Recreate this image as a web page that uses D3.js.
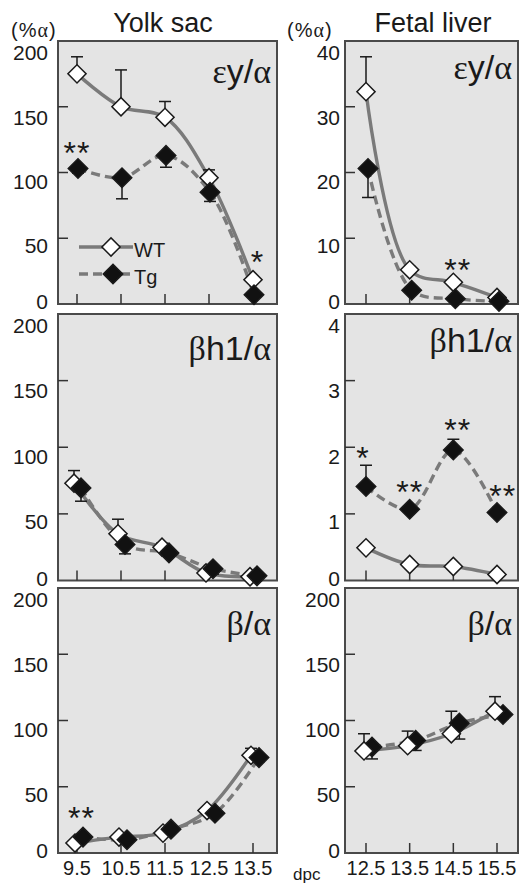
<!DOCTYPE html>
<html>
<head>
<meta charset="utf-8">
<script src="https://cdn.jsdelivr.net/npm/d3@7"></script>
<style>
  body { margin: 0; background: #fff; }
  svg { display: block; }
  text { font-family: "Liberation Sans", Arial, Helvetica, sans-serif; fill: #1a1a1a; }
  .greek { font-family: "Liberation Serif", "DejaVu Serif", serif; }
</style>
</head>
<body>
<div id="chart"></div>
<script>
// days post coitum
const ysDays = [9.5, 10.5, 11.5, 12.5, 13.5];
const flDays = [12.5, 13.5, 14.5, 15.5];

const tissues = ["Yolk sac", "Fetal liver"];
const ratioLabels = ["εy/α", "βh1/α", "β/α"];

const ysTicks = [0, 50, 100, 150, 200];
const flEyTicks = [0, 10, 20, 30, 40];
const flBhTicks = [0, 1, 2, 3, 4];
const flBTicks = [0, 50, 100, 150, 200];

// values in %α, errors signed (+ drawn upward, - drawn downward)
const ysEyWT = [175, 150, 142, 96, 18.5];
const ysEyWTerr = [13, 28, 12, 6, 0];
const ysEyTg = [103, 96, 113, 85, 7];
const ysEyTgerr = [-3.5, -16, -9, -7, 0];

const flEyWT = [32.3, 5.2, 3.3, 1.0];
const flEyWTerr = [5.3, 0.5, 0.4, 0];
const flEyTg = [20.6, 2.1, 0.8, 0.4];
const flEyTgerr = [-4.4, -0.4, 0, 0];

const ysBhWT = [73, 35, 25, 5.7, 2.8];
const ysBhWTerr = [9.5, 11, 3, 0, 0];
const ysBhTg = [69.5, 27, 20.7, 8.8, 3.5];
const ysBhTgerr = [-10, -7, 0, -4, 0];

const flBhWT = [0.49, 0.24, 0.21, 0.09];
const flBhWTerr = [0, 0, 0, 0];
const flBhTg = [1.41, 1.07, 1.96, 1.02];
const flBhTgerr = [0.32, 0.04, 0.16, 0.04];

const ysBWT = [7.5, 12, 15, 32, 73.7];
const ysBWTerr = [0, 0, 0, 0, 5.3];
const ysBTg = [12, 10, 18, 30, 72];
const ysBTgerr = [0, 0, 0, 0, -3];

const flBWT = [77, 81, 90, 107];
const flBWTerr = [13, 11, 17, 11];
const flBTg = [80, 85, 98, 104.5];
const flBTgerr = [-9, -7.6, -12, -3];

// significance marks: day position, height in %α
const ysEyStars = [{ day: 9.5, v: 119, t: "**" }, { day: 13.6, v: 36, t: "*" }];
const flEyStars = [{ day: 14.6, v: 5.9, t: "**" }];
const ysBhStars = [];
const flBhStars = [{ day: 12.43, v: 1.91, t: "*" }, { day: 13.5, v: 1.4, t: "**" },
                   { day: 14.6, v: 2.33, t: "**" }, { day: 15.63, v: 1.34, t: "**" }];
const ysBStars = [{ day: 9.6, v: 30, t: "**" }];
const flBStars = [];

const width = 521, height = 884;
const cols = [
  { x0: 58, x1: 277, days: ysDays, range: [77, 253], labelEnd: 48 },
  { x0: 345, x1: 518, days: flDays, range: [366, 497], labelEnd: 340 }
];
const rows = [
  { y0: 41, y1: 304 },
  { y0: 314, y1: 580.5 },
  { y0: 588, y1: 853 }
];

const panels = [
  { c: 0, r: 0, ticks: ysTicks, wt: ysEyWT, wtErr: ysEyWTerr, tg: ysEyTg, tgErr: ysEyTgerr, stars: ysEyStars, off: [0, 1], lab: 83 },
  { c: 1, r: 0, ticks: flEyTicks, wt: flEyWT, wtErr: flEyWTerr, tg: flEyTg, tgErr: flEyTgerr, stars: flEyStars, off: [0, 2], lab: 79 },
  { c: 0, r: 1, ticks: ysTicks, wt: ysBhWT, wtErr: ysBhWTerr, tg: ysBhTg, tgErr: ysBhTgerr, stars: ysBhStars, off: [-3, 4], lab: 360 },
  { c: 1, r: 1, ticks: flBhTicks, wt: flBhWT, wtErr: flBhWTerr, tg: flBhTg, tgErr: flBhTgerr, stars: flBhStars, off: [0, 0], lab: 352 },
  { c: 0, r: 2, ticks: ysTicks, wt: ysBWT, wtErr: ysBWTerr, tg: ysBTg, tgErr: ysBTgerr, stars: ysBStars, off: [-2, 6], lab: 635 },
  { c: 1, r: 2, ticks: flBTicks, wt: flBWT, wtErr: flBWTerr, tg: flBTg, tgErr: flBTgerr, stars: flBStars, off: [-2, 6], lab: 635, wtOnTop: true }
];

const lineGray = "#7a7a7a";
const ink = "#1a1a1a";

// greek letters in a serif face, as in the original figure
function mixedText(sel, str) {
  str.split("").forEach(function(ch) {
    const t = sel.append("tspan").text(ch);
    if (/[\u0370-\u03ff]/.test(ch)) t.attr("class", "greek");
  });
}

const svg = d3.select("#chart").append("svg")
  .attr("width", width)
  .attr("height", height);

// column titles
cols.forEach(function(col, i) {
  svg.append("text")
    .attr("x", i === 0 ? 163 : 433)
    .attr("y", 32)
    .attr("text-anchor", "middle")
    .style("font-size", "27px")
    .text(tissues[i]);

  const unit = svg.append("text")
    .attr("x", i === 0 ? 11 : 287)
    .attr("y", 37)
    .style("font-size", "20px")
    .style("letter-spacing", "1px");
  mixedText(unit, "(%α)");
});

panels.forEach(function(p) {
  const col = cols[p.c], row = rows[p.r];
  const max = p.ticks[p.ticks.length - 1];
  const x = d3.scaleLinear().domain([col.days[0], col.days[col.days.length - 1]]).range(col.range);
  const y = d3.scaleLinear().domain([0, max]).range([row.y1, row.y0]);
  const g = svg.append("g");

  g.append("rect")
    .attr("x", col.x0).attr("y", row.y0)
    .attr("width", col.x1 - col.x0).attr("height", row.y1 - row.y0)
    .attr("fill", "#e4e4e4")
    .attr("stroke", "#4a4a4a")
    .attr("stroke-width", 2);

  // inward ticks
  g.selectAll(".yt").data(p.ticks.slice(1, -1)).enter().append("line")
    .attr("x1", col.x0).attr("x2", col.x0 + 10)
    .attr("y1", d => y(d)).attr("y2", d => y(d))
    .attr("stroke", "#333").attr("stroke-width", 1.5);

  g.selectAll(".xt").data(col.days).enter().append("line")
    .attr("x1", d => x(d)).attr("x2", d => x(d))
    .attr("y1", row.y1).attr("y2", row.y1 - 10)
    .attr("stroke", "#333").attr("stroke-width", 1.5);

  // y labels
  g.selectAll(".yl").data(p.ticks).enter().append("text")
    .attr("x", col.labelEnd)
    .attr("y", d => y(d) + (d === 0 ? -2 : 6 + 6 * d / max))
    .attr("dy", "0.35em")
    .attr("text-anchor", "end")
    .style("font-size", "21px")
    .text(d => d);

  // ratio label
  const lab = g.append("text")
    .attr("x", col.x1 - 6)
    .attr("y", p.lab)
    .attr("text-anchor", "end")
    .style("font-size", "34px");
  mixedText(lab, ratioLabels[p.r]);

  const series = [
    { vals: p.wt, err: p.wtErr, dx: p.off[0], dash: null, fill: "#fff", size: 165 },
    { vals: p.tg, err: p.tgErr, dx: p.off[1], dash: "9,5", fill: "#111", size: 190 }
  ];

  const line = d3.line()
    .x(d => x(d.day) + d.dx)
    .y(d => y(d.v))
    .curve(d3.curveCatmullRom.alpha(0.5));

  series.forEach(function(s) {
    const pts = col.days.map((day, i) => ({ day: day, v: s.vals[i], e: s.err[i], dx: s.dx }));
    s.pts = pts;
    g.append("path")
      .attr("d", line(pts))
      .attr("fill", "none")
      .attr("stroke", lineGray)
      .attr("stroke-width", 3.4)
      .attr("stroke-dasharray", s.dash);
  });

  series.forEach(function(s) {
    const eb = g.selectAll(null).data(s.pts.filter(d => d.e !== 0)).enter().append("g");
    eb.append("line")
      .attr("x1", d => x(d.day) + d.dx).attr("x2", d => x(d.day) + d.dx)
      .attr("y1", d => y(d.v)).attr("y2", d => y(d.v + d.e))
      .attr("stroke", ink).attr("stroke-width", 1.5);
    eb.append("line")
      .attr("x1", d => x(d.day) + d.dx - 6).attr("x2", d => x(d.day) + d.dx + 6)
      .attr("y1", d => y(d.v + d.e)).attr("y2", d => y(d.v + d.e))
      .attr("stroke", ink).attr("stroke-width", 1.5);
  });

  const order = p.wtOnTop ? [series[1], series[0]] : series;
  order.forEach(function(s) {
    g.selectAll(null).data(s.pts).enter().append("path")
      .attr("d", d3.symbol(d3.symbolSquare, s.size)())
      .attr("transform", d => "translate(" + (x(d.day) + d.dx) + "," + y(d.v) + ") rotate(45)")
      .attr("fill", s.fill)
      .attr("stroke", ink)
      .attr("stroke-width", 1.5);
  });

  g.selectAll(".st").data(p.stars).enter().append("text")
    .attr("x", d => x(d.day))
    .attr("y", d => y(d.v) + 16)
    .attr("text-anchor", "middle")
    .style("font-size", "32px")
    .style("letter-spacing", "1px")
    .text(d => d.t);

  // day labels under the bottom row
  if (p.r === 2) {
    svg.selectAll(null).data(col.days).enter().append("text")
      .attr("x", d => x(d))
      .attr("y", 875)
      .attr("text-anchor", "middle")
      .style("font-size", "20px")
      .text(d => d);
  }
});

// legend
const legend = svg.append("g");
[{ name: "WT", y: 247, dash: null, fill: "#fff", size: 165, dx: 111 },
 { name: "Tg", y: 274, dash: "9,5", fill: "#111", size: 190, dx: 113 }].forEach(function(d) {
  legend.append("line")
    .attr("x1", 79).attr("x2", 133)
    .attr("y1", d.y).attr("y2", d.y)
    .attr("stroke", lineGray).attr("stroke-width", 3.4)
    .attr("stroke-dasharray", d.dash);
  legend.append("path")
    .attr("d", d3.symbol(d3.symbolSquare, d.size)())
    .attr("transform", "translate(" + d.dx + "," + d.y + ") rotate(45)")
    .attr("fill", d.fill).attr("stroke", ink).attr("stroke-width", 1.5);
  legend.append("text")
    .attr("x", 134).attr("y", d.y + 4)
    .attr("dy", "0.3em")
    .style("font-size", "20px")
    .text(d.name);
});

svg.append("text")
  .attr("x", 293)
  .attr("y", 880)
  .style("font-size", "17px")
  .text("dpc");
</script>
</body>
</html>
